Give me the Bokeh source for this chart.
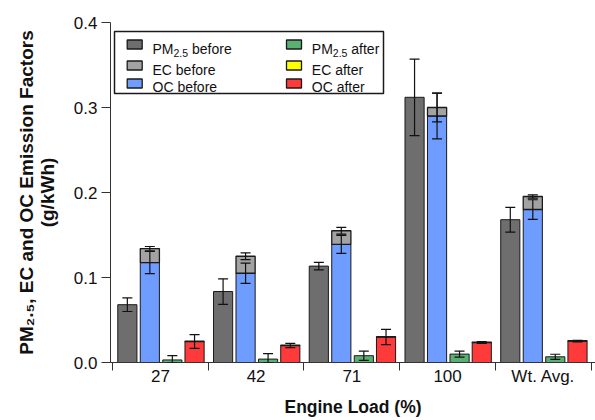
import numpy as np
from bokeh.plotting import figure
from bokeh.models import (ColumnDataSource, Range1d, FixedTicker, Whisker, TeeHead,
                          Label, BoxAnnotation, PrintfTickFormatter)
from bokeh.embed import file_html
from bokeh.resources import INLINE

# ---------------- data ----------------
loads = ["27", "42", "71", "100", "Wt. Avg."]
y_ticks = [0.0, 0.1, 0.2, 0.3, 0.4]

pm_before = [0.068, 0.0835, 0.1134, 0.312, 0.168]
pm_before_err = [0.008, 0.015, 0.0045, 0.045, 0.0145]
oc_before = [0.1176, 0.105, 0.139, 0.290, 0.180]
oc_before_err = [0.013, 0.012, 0.0105, 0.027, 0.0115]
ec_before = [0.0164, 0.020, 0.016, 0.010, 0.0153]
ec_before_err = [0.0025, 0.004, 0.004, 0.017, 0.002]

pm_after = [0.003, 0.004, 0.008, 0.0099, 0.0067]
pm_after_err = [0.005, 0.0065, 0.0054, 0.0035, 0.003]
oc_after = [0.0247, 0.020, 0.030, 0.0235, 0.0252]
oc_after_err = [0.008, 0.0025, 0.009, 0.001, 0.001]
ec_after = [0.0003, 0.0003, 0.0003, 0.0005, 0.0005]

# ---------------- styles ----------------
C_PM_B, C_EC_B, C_OC_B = "#6e6e6e", "#a3a3a3", "#6f9dff"
C_PM_A, C_EC_A, C_OC_A = "#5aaf73", "#ffff00", "#ff3a3a"
EDGE = "#1a1a1a"
FONT = "Liberation Sans"

W, H = 595, 420
FL, FT, FB = 110, 22, 58
FRAME_BOTTOM = H - FB

p = figure(width=W, height=H, output_backend="svg", toolbar_location=None,
           x_range=Range1d(0.479, 5.545), y_range=Range1d(0, 0.4),
           min_border_left=FL, min_border_right=0, min_border_top=FT,
           min_border_bottom=FB)
p.outline_line_color = None
p.grid.visible = False
p.background_fill_color = "white"
p.border_fill_color = "white"

# y axis
p.yaxis.ticker = FixedTicker(ticks=y_ticks, minor_ticks=[])
p.yaxis.formatter = PrintfTickFormatter(format="%.1f")
p.yaxis.major_tick_out = 9
p.yaxis.major_tick_in = 0
p.yaxis.major_label_standoff = 4
p.yaxis.axis_line_color = "#333333"
p.yaxis.major_tick_line_color = "#333333"
p.yaxis.minor_tick_line_color = None
p.yaxis.axis_label = "PM\u2082.\u2085, EC and OC Emission Factors\n(g/kWh)"
p.yaxis.axis_label_text_font = FONT
p.yaxis.axis_label_text_font_size = "19px"
p.yaxis.axis_label_text_font_style = "bold"
p.yaxis.axis_label_text_color = "#111111"
p.yaxis.axis_label_text_line_height = 1.0
p.yaxis.axis_label_standoff = 13

# x axis
idx = np.arange(1, len(loads) + 1)
p.xaxis.ticker = FixedTicker(ticks=list(idx), minor_ticks=list(idx - 0.5) + [len(loads) + 0.5])
p.xaxis.major_label_overrides = {int(i): lab for i, lab in zip(idx, loads)}
p.xaxis.major_tick_out = 0
p.xaxis.major_tick_in = 0
p.xaxis.minor_tick_out = 8
p.xaxis.minor_tick_in = 0
p.xaxis.minor_tick_line_color = "#333333"
p.xaxis.axis_line_color = "#333333"
p.xaxis.major_label_standoff = -4
p.xaxis.axis_label = "Engine Load (%)"
p.xaxis.axis_label_text_font = FONT
p.xaxis.axis_label_text_font_size = "17.5px"
p.xaxis.axis_label_text_font_style = "bold"
p.xaxis.axis_label_text_color = "#111111"
p.xaxis.axis_label_standoff = 8

for ax in (p.xaxis, p.yaxis):
    ax.major_label_text_font = FONT
    ax.major_label_text_font_size = "17px"
    ax.major_label_text_color = "#111111"

# ---------------- bars ----------------
offsets = [-0.345, -0.11, 0.125, 0.357]
BW = 0.2

def arr(a):
    return np.asarray(a, dtype=float)

x_pm_b = idx + offsets[0]
x_oc_b = idx + offsets[1]
x_pm_a = idx + offsets[2]
x_oc_a = idx + offsets[3]

p.vbar(x=x_pm_b, top=arr(pm_before), bottom=0, width=BW, fill_color=C_PM_B, line_color=EDGE, line_width=1)
p.vbar(x=x_oc_b, top=arr(oc_before), bottom=0, width=BW, fill_color=C_OC_B, line_color=EDGE, line_width=1)
p.vbar(x=x_oc_b, top=arr(oc_before) + arr(ec_before), bottom=arr(oc_before), width=BW,
       fill_color=C_EC_B, line_color=EDGE, line_width=1.3)
p.vbar(x=x_pm_a, top=arr(pm_after), bottom=0, width=BW, fill_color=C_PM_A, line_color=EDGE, line_width=1)
p.vbar(x=x_oc_a, top=arr(oc_after), bottom=0, width=BW, fill_color=C_OC_A, line_color=EDGE, line_width=1)
p.vbar(x=x_oc_a, top=arr(oc_after) + arr(ec_after), bottom=arr(oc_after), width=BW,
       fill_color=C_EC_A, line_color=EDGE, line_width=1.3)

def whisk(x, center, err):
    center = arr(center); err = arr(err)
    src = ColumnDataSource(dict(x=x, upper=center + err, lower=np.maximum(center - err, 0.0)))
    w = Whisker(source=src, base="x", upper="upper", lower="lower", level="annotation",
                line_color="#111111", line_width=1.2,
                upper_head=TeeHead(size=10, line_color="#111111", line_width=1.2),
                lower_head=TeeHead(size=10, line_color="#111111", line_width=1.2))
    p.add_layout(w)

whisk(x_pm_b, pm_before, pm_before_err)
whisk(x_oc_b, oc_before, oc_before_err)
whisk(x_oc_b, arr(oc_before) + arr(ec_before), ec_before_err)
whisk(x_pm_a, pm_after, pm_after_err)
whisk(x_oc_a, oc_after, oc_after_err)

# ---------------- helpers in canvas pixels (legend inside the frame) ----------------
def sx(cx):
    return cx - FL

def sy(cy):
    return FRAME_BOTTOM - cy

def label(cx, cy, text, size, bold=False, align="left", baseline="alphabetic", angle=0.0):
    p.add_layout(Label(x=sx(cx), y=sy(cy), x_units="screen", y_units="screen", text=text,
                       text_font=FONT, text_font_size=f"{size}px",
                       text_font_style="bold" if bold else "normal",
                       text_align=align, text_baseline=baseline, angle=angle,
                       text_color="#111111"))

def box(l, t, r, b, fill, lw=1.2):
    p.add_layout(BoxAnnotation(left=sx(l), right=sx(r), top=sy(t), bottom=sy(b),
                               left_units="screen", right_units="screen",
                               top_units="screen", bottom_units="screen",
                               fill_color=fill, fill_alpha=1.0,
                               line_color=EDGE, line_width=lw, line_alpha=1.0))

# ---------------- legend ----------------
box(114, 31, 383, 93, "white", lw=1.5)
rows_sw = [44, 65, 83]
rows_bl = [48.5, 69.3, 86.7]
col_sw = [126.7, 286]
col_tx = [152, 311.3]
leg = [[("PM", "2.5", "\u00a0before", C_PM_B), ("EC before", None, None, C_EC_B), ("OC before", None, None, C_OC_B)],
       [("PM", "2.5", "\u00a0after", C_PM_A), ("EC after", None, None, C_EC_A), ("OC after", None, None, C_OC_A)]]
LS = 14
for c in range(2):
    for r in range(3):
        main, sub, rest, col = leg[c][r]
        box(col_sw[c], rows_sw[r] - 4.5, col_sw[c] + 15, rows_sw[r] + 4.5, col, lw=1.3)
        label(col_tx[c], rows_bl[r], main, LS)
        if sub:
            x1 = col_tx[c] + 1.5 * LS
            label(x1, rows_bl[r] + 3.5, sub, 10.5)
            label(x1 + 1.39 * 10.5, rows_bl[r], rest, LS)

open("out.html", "w").write(file_html(p, INLINE))
